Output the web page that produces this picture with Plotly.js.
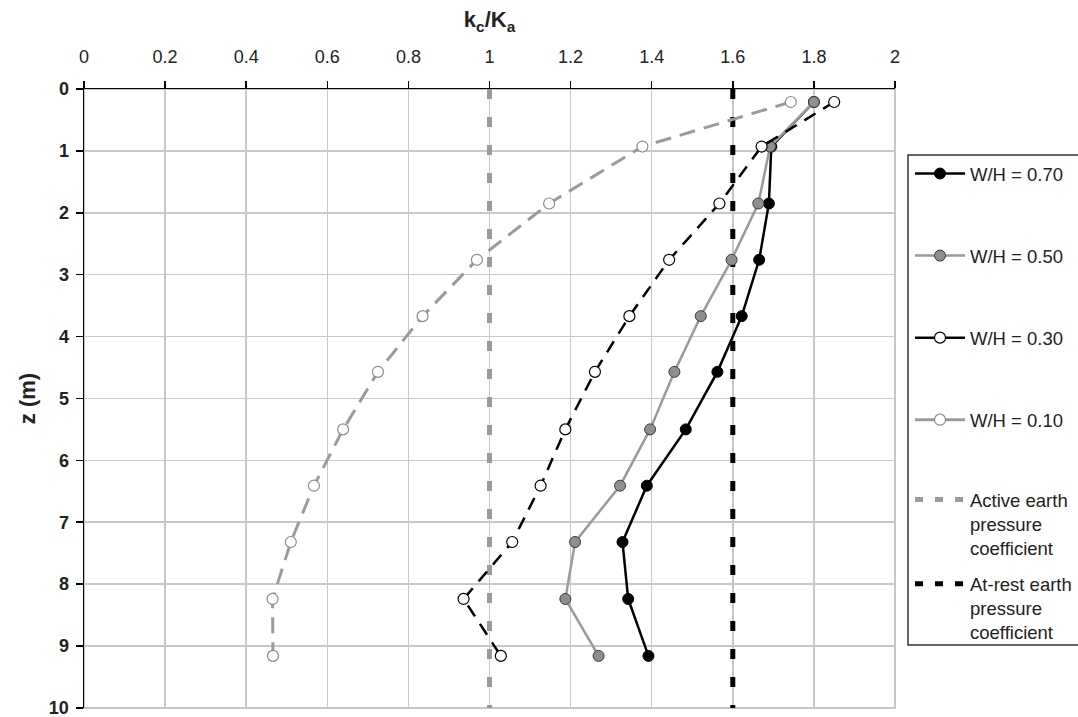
<!DOCTYPE html>
<html>
<head>
<meta charset="utf-8">
<script src="https://cdn.plot.ly/plotly-3.0.1.min.js"></script>
<style>html,body{margin:0;padding:0;background:#fff;}#chart{width:1078px;height:717px;}</style>
</head>
<body>
<div id="chart"></div>
<script>
// depth of measurement points (m)
const depth = [0.21, 0.93, 1.85, 2.76, 3.67, 4.57, 5.50, 6.41, 7.32, 8.24, 9.16];
// kc/Ka for each W/H ratio
const wh070 = [1.80, 1.695, 1.689, 1.665, 1.622, 1.562, 1.484, 1.388, 1.328, 1.342, 1.392];
const wh050 = [1.80, 1.692, 1.663, 1.597, 1.521, 1.456, 1.396, 1.322, 1.211, 1.187, 1.269];
const wh030 = [1.85, 1.671, 1.567, 1.443, 1.345, 1.260, 1.187, 1.126, 1.056, 0.936, 1.028];
const wh010 = [1.743, 1.377, 1.147, 0.969, 0.835, 0.725, 0.639, 0.567, 0.510, 0.465, 0.466];
// reference coefficients
const refDepth = [0, 10];
const activeK = [1, 1];
const atRestK = [1.6, 1.6];
// tick values
const depthTicks = [0, 1, 2, 3, 4, 5, 6, 7, 8, 9, 10];
const seriesNames = ['W/H = 0.70', 'W/H = 0.50', 'W/H = 0.30', 'W/H = 0.10'];
const refNames = ['Active earth<br>pressure<br>coefficient', 'At-rest earth<br>pressure<br>coefficient'];

const FONT = 'Liberation Sans, Arial, sans-serif';
const GRAY = '#9a9a9a';

const styles = [
  {line: {color: '#000', width: 2.5}, marker: {color: '#000', size: 11, line: {color: '#000', width: 1}}},
  {line: {color: GRAY, width: 2.5}, marker: {color: '#8e8e8e', size: 11, line: {color: '#3a3a3a', width: 1}}},
  {line: {color: '#000', width: 2.5}, marker: {color: '#fff', size: 11, line: {color: '#000', width: 1.2}}},
  {line: {color: GRAY, width: 3}, marker: {color: '#fff', size: 11, line: {color: '#8a8a8a', width: 1.2}}}
];
const seriesX = [wh070, wh050, wh030, wh010];
const dashes = ['solid', 'solid', '13px,9px', '16px,9px'];

const traces = [];
// reference lines
traces.push({x: activeK, y: refDepth, mode: 'lines', showlegend: false, hoverinfo: 'skip',
  line: {color: GRAY, width: 5, dash: '10px,18px'}});
traces.push({x: atRestK, y: refDepth, mode: 'lines', showlegend: false, hoverinfo: 'skip',
  line: {color: '#000', width: 5, dash: '10px,18px'}});
// data series
seriesX.forEach((xs, i) => {
  traces.push({x: xs, y: depth, mode: 'lines+markers', name: seriesNames[i], showlegend: false,
    legendgroup: 'g' + i,
    line: Object.assign({}, styles[i].line, {dash: dashes[i]}), marker: styles[i].marker});
});
// legend entries (solid symbols as in the reference legend)
seriesX.forEach((xs, i) => {
  traces.push({x: [null], y: [null], mode: 'lines+markers', name: seriesNames[i], legend: 'legend',
    legendgroup: 'g' + i, line: styles[i].line, marker: styles[i].marker});
});
traces.push({x: [null], y: [null], mode: 'lines', name: refNames[0], legend: 'legend2', legendgroup: 'r0',
  line: {color: GRAY, width: 5, dash: '8px,12px'}});
traces.push({x: [null], y: [null], mode: 'lines', name: refNames[1], legend: 'legend2', legendgroup: 'r1',
  line: {color: '#000', width: 5, dash: '8px,12px'}});

const plotL = 84, plotR = 895, plotT = 89, plotB = 708;
const pw = plotR - plotL, ph = plotB - plotT;
const px = v => (v - plotL) / pw;
const py = v => 1 - (v - plotT) / ph;

const layout = {
  width: 1078, height: 717,
  margin: {l: plotL, r: 1078 - plotR, t: plotT, b: 717 - plotB, autoexpand: false},
  paper_bgcolor: '#fff', plot_bgcolor: '#fff',
  font: {family: FONT, color: '#222'},
  xaxis: {
    side: 'top', range: [0, 2], tick0: 0, dtick: 0.2, zeroline: false,
    showgrid: true, gridcolor: '#c8c8c8', gridwidth: 1.5,
    showline: true, linecolor: '#000', linewidth: 1.5,
    ticks: 'outside', ticklen: 7, tickwidth: 1.5, tickcolor: '#000',
    tickfont: {family: FONT, size: 18, color: '#222'}, ticklabelstandoff: 10, ticklabeloverflow: 'allow',
    title: {text: '<b>k<sub>c</sub>/K<sub>a</sub></b>', font: {family: FONT, size: 22, color: '#222'}, standoff: 13}
  },
  yaxis: {
    range: [10.002, 0], tickmode: 'array', tickvals: depthTicks, zeroline: false,
    showgrid: true, gridcolor: '#c8c8c8', gridwidth: 1.5,
    showline: true, linecolor: '#000', linewidth: 1.5,
    ticks: 'outside', ticklen: 7, tickwidth: 1.5, tickcolor: '#000',
    tickfont: {family: FONT, size: 18, color: '#222', weight: 'bold'}, ticklabelstandoff: 3, ticklabeloverflow: 'allow',
    title: {text: '<b>z (m)</b>', font: {family: FONT, size: 22, color: '#222'}, standoff: 7}
  },
  legend: {
    x: px(910), y: py(155), xanchor: 'left', yanchor: 'top',
    bgcolor: 'rgba(0,0,0,0)', borderwidth: 0, tracegroupgap: 55, valign: 'top',
    font: {family: FONT, size: 18.5, color: '#222'}, itemwidth: 50, itemclick: false, itemdoubleclick: false
  },
  legend2: {
    x: px(910), y: py(481), xanchor: 'left', yanchor: 'top',
    bgcolor: 'rgba(0,0,0,0)', borderwidth: 0, tracegroupgap: 9, valign: 'top',
    font: {family: FONT, size: 18.5, color: '#222'}, itemwidth: 50, itemclick: false, itemdoubleclick: false
  },
  shapes: [
    {type: 'rect', xref: 'paper', yref: 'paper', x0: 0, x1: 1, y0: 0, y1: 1,
      line: {color: '#b4b4b4', width: 1.5}, layer: 'between'},
    {type: 'rect', xref: 'paper', yref: 'paper', x0: px(908), x1: px(1100), y0: py(645), y1: py(155),
      line: {color: '#333', width: 1.5}, layer: 'above'}
  ],
  showlegend: true
};

Plotly.newPlot('chart', traces, layout, {staticPlot: true, displayModeBar: false});
</script>
</body>
</html>
